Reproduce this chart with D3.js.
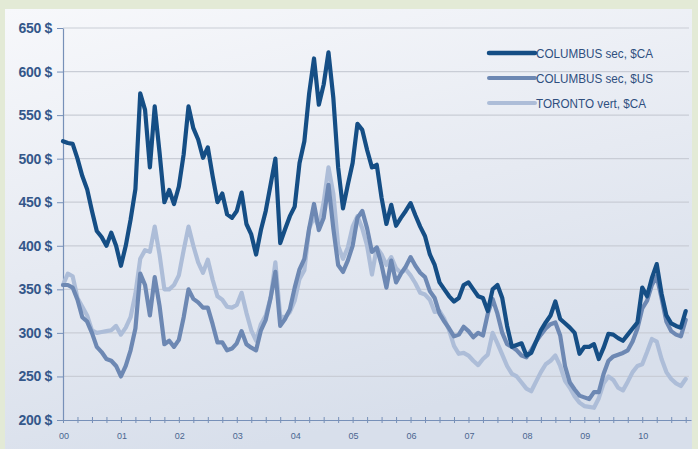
<!DOCTYPE html>
<html>
<head>
<meta charset="utf-8">
<script src="https://cdn.jsdelivr.net/npm/d3@7"></script>
<style>
  html, body { margin: 0; padding: 0; background: #e3ead6; }
  #chart { width: 698px; height: 449px; }
</style>
</head>
<body>
<div id="chart"></div>
<script>
// monthly prices, Jan 2000 .. Oct 2010
const columbusCA = [
  520,518,517,500,480,465,440,417,410,400,415,400,
  377,400,430,465,575,556,490,560,507,450,464,448,
  468,505,560,535,522,501,513,480,450,460,436,432,
  440,461,425,413,390,418,440,470,500,403,419,434,
  445,495,520,575,615,562,585,622,570,490,443,470,
  495,540,533,510,490,493,455,425,447,423,432,440,
  449,435,422,411,390,378,358,350,342,336,340,355,
  358,350,342,340,325,350,355,340,308,284,286,288,
  274,277,290,303,312,320,336,316,311,306,300,276,
  284,284,287,270,283,299,298,294,291,298,305,312,
  352,342,363,379,345,320,311,308,306,325
];
const columbusUS = [
  355,355,352,338,318,313,300,284,278,270,268,262,
  250,262,280,305,368,355,320,364,331,287,291,284,
  292,318,350,339,335,329,329,310,289,289,280,282,
  288,302,287,283,280,303,315,340,370,308,316,327,
  352,373,385,420,448,418,432,470,420,378,370,383,
  400,432,440,420,393,398,378,352,383,358,368,376,
  387,377,369,364,348,340,322,313,305,296,298,307,
  302,295,300,297,322,339,322,300,287,284,280,274,
  272,280,290,298,305,310,312,297,262,243,235,228,
  226,224,232,232,253,268,273,275,277,280,290,305,
  328,337,355,365,340,313,302,298,296,315
];
const torontoCA = [
  355,368,365,340,330,320,303,300,301,302,303,308,
  298,306,318,345,385,395,393,422,390,350,350,355,
  366,395,422,400,381,369,384,361,342,338,330,329,
  332,346,323,303,291,310,320,340,381,319,318,324,
  337,362,372,420,433,422,450,490,460,400,385,398,
  422,434,420,400,367,398,390,378,387,374,369,373,
  366,357,346,344,338,324,325,316,303,285,276,277,
  274,268,263,270,275,300,288,275,262,253,250,243,
  236,233,244,255,264,268,274,262,245,237,227,220,
  216,215,214,225,242,250,246,237,234,244,255,262,
  264,278,293,290,270,255,247,242,239,247
];
const seriesNames = ['COLUMBUS sec, $CA', 'COLUMBUS sec, $US', 'TORONTO vert, $CA'];
const yearLabels = ['00','01','02','03','04','05','06','07','08','09','10'];
const yTicks = [200, 250, 300, 350, 400, 450, 500, 550, 600, 650];

const width = 698, height = 449;
const margin = {top: 28, right: 7, bottom: 29, left: 63};
const colors = ['#154e85', '#6d88b3', '#adbdd8'];
const narrow = '"Liberation Sans Narrow", "Arial Narrow", Arial, sans-serif';

const svg = d3.select('#chart').append('svg')
  .attr('width', width)
  .attr('height', height);

// panel background
const defs = svg.append('defs');
const grad = defs.append('linearGradient')
  .attr('id', 'panelGrad')
  .attr('x1', '0').attr('y1', '0').attr('x2', '0.35').attr('y2', '1');
grad.append('stop').attr('offset', '0%').attr('stop-color', '#f7f8fb');
grad.append('stop').attr('offset', '55%').attr('stop-color', '#e6eaf2');
grad.append('stop').attr('offset', '100%').attr('stop-color', '#d8dfeb');

svg.append('rect')
  .attr('x', 5).attr('y', 9)
  .attr('width', 687).attr('height', height - 9)
  .attr('fill', 'url(#panelGrad)');

const x = d3.scaleLinear()
  .domain([0, 130.1])
  .range([margin.left, width - margin.right]);

const y = d3.scaleLinear()
  .domain([200, 650])
  .range([height - margin.bottom, margin.top]);

// grid
svg.append('g')
  .selectAll('line')
  .data(yTicks.slice(1))
  .join('line')
  .attr('x1', margin.left)
  .attr('x2', width - margin.right - 2)
  .attr('y1', d => y(d))
  .attr('y2', d => y(d))
  .style('stroke', '#c9cdd6')
  .style('stroke-width', 1.2);

// y axis
const yAxis = d3.axisLeft(y)
  .tickValues(yTicks)
  .tickSizeInner(6)
  .tickSizeOuter(0)
  .tickPadding(5)
  .tickFormat(d => d + ' $');

const yG = svg.append('g')
  .attr('transform', `translate(${margin.left},0)`)
  .call(yAxis);
yG.select('.domain').style('stroke', '#7790b8').style('stroke-width', 1.2);
yG.selectAll('.tick line').style('stroke', '#7790b8');
yG.selectAll('.tick text')
  .style('font-family', narrow)
  .style('font-size', '14px')
  .style('font-weight', 'bold')
  .style('letter-spacing', '-0.3px')
  .style('fill', '#34578a');

// x axis with quarterly ticks
const quarterTicks = d3.range(0, 130, 3);
const xAxis = d3.axisBottom(x)
  .tickValues(quarterTicks)
  .tickSizeInner(3)
  .tickSizeOuter(0)
  .tickFormat('');

const xG = svg.append('g')
  .attr('transform', `translate(0,${height - margin.bottom})`)
  .call(xAxis);
xG.select('.domain').style('stroke', '#7790b8').style('stroke-width', 1.2);
xG.selectAll('.tick line')
  .attr('y1', -3)
  .style('stroke', '#7790b8');

svg.append('g')
  .selectAll('text')
  .data(yearLabels)
  .join('text')
  .attr('x', (d, i) => x(i * 12) + 1)
  .attr('y', height - margin.bottom + 19)
  .attr('text-anchor', 'middle')
  .text(d => d)
  .style('font-family', narrow)
  .style('font-size', '9px')
  .style('fill', '#4a6690');

// lines (light first, dark on top)
const line = d3.line()
  .x((d, i) => x(i))
  .y(d => y(d))
  .curve(d3.curveLinear);

const allSeries = [columbusCA, columbusUS, torontoCA];
const drawOrder = [2, 1, 0];
svg.append('g')
  .selectAll('path')
  .data(drawOrder)
  .join('path')
  .attr('d', k => line(allSeries[k]))
  .style('fill', 'none')
  .style('stroke', k => colors[k])
  .style('stroke-width', 4.2)
  .style('stroke-linejoin', 'round')
  .style('stroke-linecap', 'round');

// legend
const legend = svg.append('g').attr('transform', 'translate(489,53)');
seriesNames.forEach((name, i) => {
  const g = legend.append('g').attr('transform', `translate(0,${i * 25})`);
  g.append('line')
    .attr('x1', 0).attr('x2', 46)
    .attr('y1', 0).attr('y2', 0)
    .style('stroke', colors[i])
    .style('stroke-width', i === 0 ? 4.5 : 4)
    .style('stroke-linecap', 'round');
  g.append('text')
    .attr('transform', 'translate(47,0) scale(0.9,1)')
    .attr('dy', '0.35em')
    .text(name)
    .style('font-family', narrow)
    .style('font-size', '13px')
    .style('fill', '#2f4f7f');
});
</script>
</body>
</html>
